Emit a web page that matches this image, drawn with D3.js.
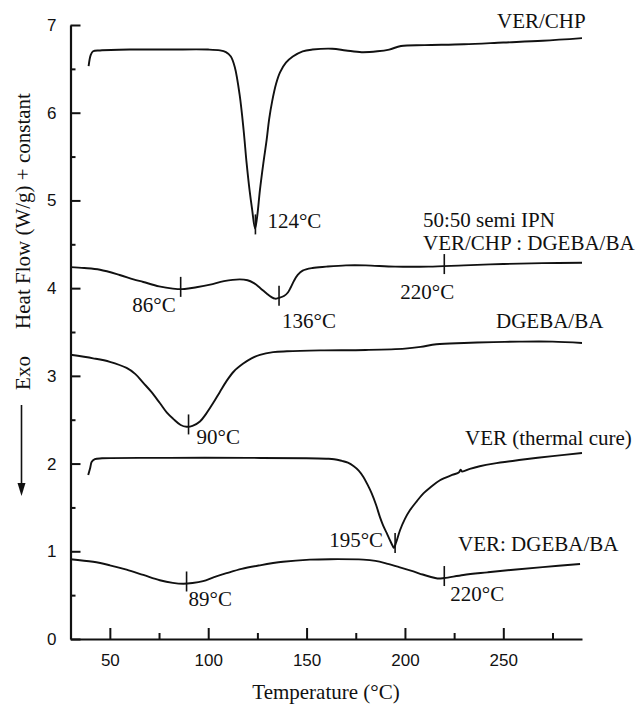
<!DOCTYPE html>
<html>
<head>
<meta charset="utf-8">
<script src="https://cdn.jsdelivr.net/npm/d3@7"></script>
<style>
  html, body { margin: 0; padding: 0; background: #fff; }
  svg { display: block; }
  .serif { font-family: "Liberation Serif", "Times New Roman", serif; fill: #111; }
  .tick text { font-family: "Liberation Sans", Arial, sans-serif; font-size: 17px; fill: #111; }
</style>
</head>
<body>
<svg id="chart" width="642" height="704"></svg>
<script>
// DSC traces: [temperature °C, heat flow W/g + offset]
const verChp = [
  [39.2,6.53],[40.3,6.66],[41.5,6.70],[45,6.71],[60,6.72],[80,6.72],[100,6.72],[106,6.71],
  [109,6.69],[111.5,6.64],[113.5,6.52],[116,6.20],[118,5.80],[119.5,5.43],[121,5.12],
  [122.3,4.90],[123.8,4.68],[124.8,4.80],[126.3,5.12],[128,5.42],[129.7,5.69],[131,5.93],
  [132.5,6.13],[134.5,6.33],[136.5,6.46],[139.5,6.57],[143,6.64],[148,6.70],[153,6.72],
  [163,6.73],[170,6.71],[178,6.69],[186,6.70],[192,6.72],[198,6.76],[210,6.77],[230,6.78],
  [250,6.80],[270,6.82],[290,6.85]
];
const semiIpn = [
  [30,4.24],[37,4.23],[45,4.21],[55,4.15],[62,4.10],[67,4.07],[75,4.02],[82,3.995],[88,3.99],
  [94,4.01],[101,4.04],[108,4.08],[116,4.10],[120,4.09],[123,4.06],[126.5,4.00],[129.7,3.94],
  [132,3.90],[134,3.88],[136,3.89],[138.5,3.91],[140.5,3.95],[142,4.01],[143.5,4.08],
  [145.5,4.15],[148,4.20],[153,4.23],[160,4.245],[170,4.26],[180,4.26],[195,4.245],
  [212,4.245],[230,4.26],[250,4.275],[270,4.285],[290,4.29]
];
const dgebaBa = [
  [30,3.24],[41.5,3.20],[50,3.16],[58.5,3.09],[63,3.02],[67,2.92],[71,2.82],[75.4,2.69],
  [79,2.58],[82.2,2.51],[86,2.44],[89,2.42],[92,2.43],[95.8,2.48],[99,2.57],[102.5,2.69],
  [106,2.82],[109.3,2.94],[113,3.05],[117.8,3.14],[122,3.20],[126.3,3.24],[133,3.27],
  [140,3.28],[157,3.29],[180,3.295],[200,3.31],[208,3.33],[216,3.36],[230,3.375],
  [245,3.385],[258,3.39],[275,3.39],[290,3.375]
];
const verThermal = [
  [39,1.87],[40,1.95],[40.8,2.02],[42.4,2.05],[46,2.06],[80,2.065],[120,2.065],[150,2.06],
  [160,2.055],[164,2.05],[168,2.03],[171,2.01],[174,1.97],[176.5,1.92],[178.8,1.85],
  [181,1.76],[183.1,1.66],[185.3,1.53],[187.3,1.39],[189,1.29],[190.7,1.21],[192.3,1.13],
  [193.8,1.06],[194.4,1.04],[195.5,1.10],[197.5,1.24],[200,1.37],[202.6,1.47],[206,1.57],
  [209.4,1.66],[213,1.73],[217.8,1.81],[224,1.87],[227.5,1.90],[228.3,1.93],[229,1.91],
  [233,1.94],[238,1.97],[245,2.00],[258,2.04],[275,2.085],[290,2.12]
];
const verDgeba = [
  [30,0.91],[41.5,0.88],[50,0.84],[58.5,0.79],[67,0.73],[75.4,0.67],[82,0.64],[87.3,0.63],
  [92,0.638],[97.4,0.66],[103,0.705],[109.3,0.75],[117,0.80],[126.3,0.84],[138,0.88],
  [151.7,0.905],[162,0.91],[178.8,0.905],[185,0.89],[190.7,0.86],[197,0.82],[204.3,0.77],
  [209,0.735],[212.8,0.71],[216.5,0.69],[220,0.695],[229.7,0.73],[242,0.76],[255.1,0.79],
  [270,0.82],[289,0.855]
];

const seriesNames = ["VER/CHP", "50:50 semi IPN", "DGEBA/BA", "VER (thermal cure)", "VER: DGEBA/BA"];
const seriesData = [verChp, semiIpn, dgebaBa, verThermal, verDgeba];

// peak / transition temperatures marked on the traces
const peakSeries = [0, 1, 1, 1, 2, 3, 4, 4];
const peakTemps  = [124, 86, 136, 220, 90, 195, 89, 220];

const xTicks = [50, 100, 150, 200, 250];
const xMinorTicks = [75, 125, 175, 225, 275];
const yTicks = [0, 1, 2, 3, 4, 5, 6, 7];
const yMinorTicks = [0.5, 1.5, 2.5, 3.5, 4.5, 5.5, 6.5];

const xTitle = "Temperature (°C)";
const yTitle = "Heat Flow (W/g) + constant";

// ---- layout ----
const svg = d3.select("#chart");
const x = d3.scaleLinear().domain([30, 290]).range([70.5, 582]);
const y = d3.scaleLinear().domain([0, 7]).range([639, 25]);

// axes
const gx = svg.append("g").attr("transform", `translate(0,${y(0)})`)
  .call(d3.axisBottom(x).tickValues(xTicks).tickSize(-11).tickSizeOuter(0).tickPadding(15));
svg.append("g").attr("transform", `translate(0,${y(0)})`)
  .call(d3.axisBottom(x).tickValues(xMinorTicks).tickSize(-6).tickSizeOuter(0).tickFormat(""))
  .select(".domain").remove();
const gy = svg.append("g").attr("transform", `translate(${x(30)},0)`)
  .call(d3.axisLeft(y).tickValues(yTicks).tickSize(-10).tickSizeOuter(0).tickPadding(14).tickFormat(d3.format("d")));
svg.append("g").attr("transform", `translate(${x(30)},0)`)
  .call(d3.axisLeft(y).tickValues(yMinorTicks).tickSize(-5).tickSizeOuter(0).tickFormat(""))
  .select(".domain").remove();

svg.selectAll(".domain").attr("stroke", "#111").attr("stroke-width", 2.2);
svg.selectAll(".tick line").attr("stroke", "#111").attr("stroke-width", 2);
gx.selectAll(".tick text").attr("dy", "0.71em");

// axis titles
svg.append("text").attr("class", "serif")
  .attr("x", 326).attr("y", 699).attr("text-anchor", "middle")
  .style("font-size", "21px").text(xTitle);
svg.append("text").attr("class", "serif")
  .attr("transform", "translate(30,211) rotate(-90)")
  .attr("text-anchor", "middle").style("font-size", "21px").text(yTitle);
svg.append("text").attr("class", "serif")
  .attr("transform", "translate(30,373) rotate(-90)")
  .attr("text-anchor", "middle").style("font-size", "21px").text("Exo");

// exotherm direction arrow
svg.append("line").attr("x1", 21.5).attr("x2", 21.5).attr("y1", 405).attr("y2", 486)
  .attr("stroke", "#111").attr("stroke-width", 1.6);
svg.append("path").attr("d", "M17.5,483 L25.5,483 L21.5,496 Z").attr("fill", "#111");

// traces
const line = d3.line().x(d => x(d[0])).y(d => y(d[1])).curve(d3.curveCatmullRom.alpha(0.5));
svg.append("g").selectAll("path").data(seriesData).join("path")
  .attr("d", line).attr("fill", "none").attr("stroke", "#111")
  .attr("stroke-width", 1.9).attr("stroke-linejoin", "round");

// trace names
const nameLayout = [
  { x: 497, y: 28 },
  { x: 423, y: 227 },
  { x: 496, y: 328 },
  { x: 465, y: 445 },
  { x: 458, y: 551 }
];
seriesNames.forEach((name, i) => {
  svg.append("text").attr("class", "serif")
    .attr("x", nameLayout[i].x).attr("y", nameLayout[i].y)
    .style("font-size", "21px").text(name);
});
svg.append("text").attr("class", "serif")
  .attr("x", 423).attr("y", 250).style("font-size", "21px").text("VER/CHP : DGEBA/BA");

// value of a trace at temperature t (linear between read points)
function valueAt(data, t) {
  const i = d3.bisector(d => d[0]).left(data, t);
  if (i <= 0) return data[0][1];
  if (i >= data.length) return data[data.length - 1][1];
  const a = data[i - 1], b = data[i];
  return a[1] + (b[1] - a[1]) * (t - a[0]) / (b[0] - a[0]);
}

// peak markers and their labels
const peakLabelLayout = [
  { dx: 12, dy: 2, anchor: "start" },
  { dx: -5, dy: 23, anchor: "end" },
  { dx: 3, dy: 30, anchor: "start" },
  { dx: -17, dy: 33, anchor: "middle" },
  { dx: 8, dy: 18, anchor: "start" },
  { dx: -12, dy: 2, anchor: "end" },
  { dx: 2, dy: 23, anchor: "start" },
  { dx: 6, dy: 23, anchor: "start" }
];
peakTemps.forEach((t, i) => {
  const px = x(t);
  const py = y(valueAt(seriesData[peakSeries[i]], t));
  svg.append("line").attr("x1", px).attr("x2", px).attr("y1", py - 12).attr("y2", py + 8)
    .attr("stroke", "#111").attr("stroke-width", 1.6);
  const L = peakLabelLayout[i];
  svg.append("text").attr("class", "serif")
    .attr("x", px + L.dx).attr("y", py + L.dy).attr("text-anchor", L.anchor)
    .style("font-size", "21px").text(t + "°C");
});
</script>
</body>
</html>
